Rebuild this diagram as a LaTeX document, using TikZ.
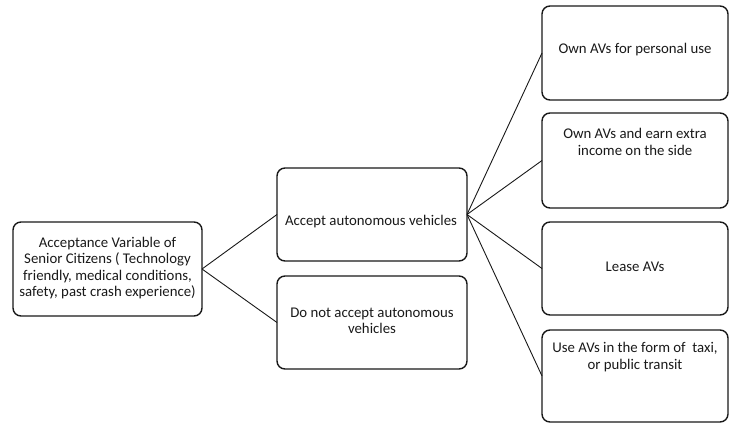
\documentclass[tikz,border=0pt]{standalone}
\usepackage{fontspec}
\setmainfont{Carlito}
\begin{document}
\begin{tikzpicture}[x=1pt,y=-1pt,
  boxnode/.style={draw=black!90,line width=1.4pt,rounded corners=8pt,inner sep=0pt,outer sep=0pt,minimum height=#1},
  boxnode/.default=94pt,
  lbl/.style={align=center,font=\fontsize{14.8}{16.6}\selectfont,text=black!90,inner sep=0pt},
  conn/.style={line width=0.9pt,black!90}]
\useasboundingbox (0,0) rectangle (735,423);
% boxes
\node[boxnode=94pt,minimum width=189pt] (L) at (107.5,269) {};
\node[boxnode=93pt,minimum width=190pt] (A) at (372,214.5) {};
\node[boxnode=93pt,minimum width=190pt] (D) at (372,322.5) {};
\node[boxnode=94pt,minimum width=186pt] (R1) at (635,53) {};
\node[boxnode=95pt,minimum width=186pt] (R2) at (635,160.5) {};
\node[boxnode=93pt,minimum width=186pt] (R3) at (635,268.5) {};
\node[boxnode=92pt,minimum width=186pt] (R4) at (635,376) {};
% texts
\node[lbl] (tL) at (107.5,268) {Acceptance Variable of\\Senior Citizens ( Technology\\friendly, medical conditions,\\safety, past crash experience)};
\node[lbl] (tA) at (371,222) {Accept autonomous vehicles};
\node[lbl] (tD) at (372,321) {Do not accept autonomous\\vehicles};
\node[lbl] (tR1) at (635,50) {Own AVs for personal use};
\node[lbl] (tR2) at (635,142) {Own AVs and earn extra\\income on the side};
\node[lbl] (tR3) at (635,267) {Lease AVs};
\node[lbl] (tR4) at (635,357) {Use AVs in the form of\ \ taxi,\\or public transit};
% connectors
\draw[conn] (L.east) -- (A.west);
\draw[conn] (L.east) -- (D.west);
\draw[conn] (A.east) -- (R1.west);
\draw[conn] (A.east) -- (R2.west);
\draw[conn] (A.east) -- (R3.west);
\draw[conn] (A.east) -- (R4.west);
\end{tikzpicture}
\end{document}
